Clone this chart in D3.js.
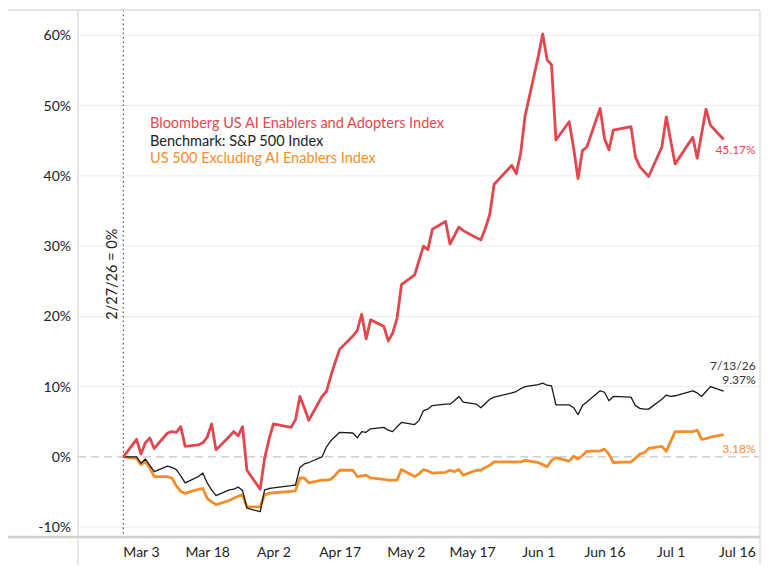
<!DOCTYPE html>
<html>
<head>
<meta charset="utf-8">
<script src="https://cdn.jsdelivr.net/npm/d3@7"></script>
<style>
  body { margin: 0; background: #fff; }
  svg { font-family: Lato, "Open Sans", sans-serif; }
</style>
</head>
<body>
<div id="chart"></div>
<script>
// trading days, 2/27/26 to 7/13/26
const dates = [
  "2026-02-27",
  "2026-03-02","2026-03-03","2026-03-04","2026-03-05","2026-03-06","2026-03-09","2026-03-10","2026-03-11","2026-03-12","2026-03-13",
  "2026-03-16","2026-03-17","2026-03-18","2026-03-19","2026-03-20","2026-03-23","2026-03-24","2026-03-25","2026-03-26","2026-03-27",
  "2026-03-30","2026-03-31",
  "2026-04-01","2026-04-02","2026-04-06","2026-04-07","2026-04-08","2026-04-09","2026-04-10","2026-04-13","2026-04-14","2026-04-15",
  "2026-04-16","2026-04-17","2026-04-20","2026-04-21","2026-04-22","2026-04-23","2026-04-24","2026-04-27","2026-04-28","2026-04-29",
  "2026-04-30",
  "2026-05-01","2026-05-04","2026-05-05","2026-05-06","2026-05-07","2026-05-08","2026-05-11","2026-05-12","2026-05-13","2026-05-14",
  "2026-05-15","2026-05-18","2026-05-19","2026-05-20","2026-05-21","2026-05-22","2026-05-26","2026-05-27","2026-05-28","2026-05-29",
  "2026-06-01","2026-06-02","2026-06-03","2026-06-04","2026-06-05","2026-06-08","2026-06-09","2026-06-10","2026-06-11","2026-06-12",
  "2026-06-15","2026-06-16","2026-06-17","2026-06-18","2026-06-22","2026-06-23","2026-06-24","2026-06-25","2026-06-26","2026-06-29",
  "2026-06-30",
  "2026-07-01","2026-07-02","2026-07-06","2026-07-07","2026-07-08","2026-07-09","2026-07-10","2026-07-13"
];

const aiIndex = [
  0,
  2.5, 0.4, 2.0, 2.7, 1.2, 3.4, 3.6, 3.5, 4.3, 1.5,
  1.7, 2.0, 2.8, 4.7, 1.0, 2.9, 3.6, 3.0, 4.3, -1.9,
  -4.6, -0.2,
  2.5, 4.7, 4.2, 5.3, 8.6, 7.0, 5.2, 8.6, 9.3, 11.5,
  13.5, 15.3, 17.2, 18.0, 20.3, 16.8, 19.5, 18.6, 16.5, 17.6,
  19.7,
  24.5, 25.9, 28.0, 30.0, 29.5, 32.4, 33.5, 30.3, 31.5, 32.7,
  32.2, 31.2, 30.9, 32.5, 34.5, 38.8, 41.5, 40.3, 43.2, 48.5,
  57.0, 60.2, 56.5, 55.8, 45.1, 47.7, 44.0, 39.6, 43.6, 44.1,
  49.6, 45.3, 43.7, 46.5, 47.0, 42.7, 41.3, 40.6, 39.9, 44.1,
  48.4,
  45.0, 41.7, 45.5, 42.5, 46.0, 49.5, 47.2, 45.17
];

const sp500 = [
  0,
  0, -0.9, -0.3, -1.2, -2.1, -1.3, -1.5, -1.8, -2.7, -3.7,
  -2.8, -2.3, -3.7, -4.7, -5.5, -4.7, -4.6, -4.3, -4.8, -7.3,
  -7.8, -4.7,
  -4.5, -4.4, -4.1, -4.0, -1.5, -1.0, -0.8, 0.0, 1.4, 2.3,
  2.9, 3.5, 3.4, 2.7, 3.6, 3.5, 4.0, 4.2, 3.8, 3.6,
  4.3,
  4.9, 4.6, 5.2, 6.6, 6.8, 7.3, 7.5, 7.5, 8.0, 8.6,
  7.8, 7.5, 7.0, 7.6, 8.2, 8.5, 9.1, 9.3, 9.7, 10.0,
  10.3, 10.5, 10.2, 10.1, 7.4, 7.4, 7.0, 6.0, 7.3, 7.8,
  9.4, 9.2, 8.0, 8.6, 8.5, 7.3, 6.9, 6.8, 6.8, 8.2,
  8.8,
  8.6, 8.7, 9.4, 9.1, 8.6, 9.3, 10.0, 9.37
];

const exAi = [
  0,
  -0.2, -1.1, -0.7, -1.6, -2.8, -2.8, -3.0, -4.1, -4.9, -5.2,
  -4.6, -4.5, -5.9, -6.4, -6.8, -6.2, -5.9, -5.6, -5.4, -7.1,
  -7.1, -5.4,
  -5.2, -5.1, -4.9, -4.8, -3.0, -3.0, -3.7, -3.3, -3.3, -3.2,
  -2.6, -1.9, -1.9, -2.8, -2.7, -2.6, -3.0, -3.2, -3.3, -3.3,
  -3.3,
  -1.8, -2.8, -2.4, -1.8, -2.0, -2.3, -2.2, -1.9, -2.1, -1.8,
  -2.6, -1.9, -1.9, -1.5, -1.2, -0.7, -0.7, -0.7, -0.7, -0.5,
  -0.8, -1.1, -1.4, -0.5, -0.1, -0.6, 0.1, -0.3, 0.2, 0.8,
  0.85, 1.1, 0.4, -0.8, -0.7, -0.2, 0.4, 0.6, 1.2, 1.5,
  0.8,
  2.2, 3.6, 3.6, 3.8, 2.5, 2.6, 2.8, 3.18
];

const seriesNames = [
  "Bloomberg US AI Enablers and Adopters Index",
  "Benchmark: S&P 500 Index",
  "US 500 Excluding AI Enablers Index"
];
const seriesColors = ["#e2474f", "#1a1a1a", "#f58d2a"];

const xTicks = ["2026-03-03","2026-03-18","2026-04-02","2026-04-17","2026-05-02","2026-05-17","2026-06-01","2026-06-16","2026-07-01","2026-07-16"];
const yTicks = [-10, 0, 10, 20, 30, 40, 50, 60];

const W = 775, H = 586;
const margin = { top: 10, right: 16, bottom: 49, left: 78 };
const width = W - margin.left - margin.right;
const height = H - margin.top - margin.bottom;

const parse = d3.timeParse("%Y-%m-%d");
const days = dates.map(parse);

const svg = d3.select("#chart").append("svg")
  .attr("width", W)
  .attr("height", H);

const g = svg.append("g")
  .attr("transform", `translate(${margin.left},${margin.top})`);

const x = d3.scaleTime()
  .domain([new Date(2026, 1, 16, 17, 30), new Date(2026, 6, 21)])
  .range([0, width]);

const y = d3.scaleLinear()
  .domain([-11.4, 63.6])
  .range([height, 0]);

// grid
g.append("g")
  .selectAll("line")
  .data(yTicks.filter(d => d !== 0))
  .join("line")
  .attr("x1", 0).attr("x2", width)
  .attr("y1", d => y(d)).attr("y2", d => y(d))
  .attr("stroke", "#ececec")
  .attr("stroke-width", 1);

g.append("line")
  .attr("x1", 0).attr("x2", width)
  .attr("y1", y(0)).attr("y2", y(0))
  .attr("stroke", "#b5b5b5")
  .attr("stroke-dasharray", "8,5");

// frame
svg.append("line").attr("x1", 8).attr("x2", margin.left + width + 1)
  .attr("y1", margin.top).attr("y2", margin.top)
  .attr("stroke", "#dedede").attr("stroke-width", 1.5);
svg.append("line").attr("x1", margin.left).attr("x2", margin.left)
  .attr("y1", margin.top).attr("y2", 565)
  .attr("stroke", "#dedede").attr("stroke-width", 1.5);
svg.append("line").attr("x1", margin.left + width + 1).attr("x2", margin.left + width + 1)
  .attr("y1", margin.top).attr("y2", 565)
  .attr("stroke", "#dedede").attr("stroke-width", 1.5);

// y axis
const yAxis = g.append("g")
  .call(d3.axisLeft(y).tickValues(yTicks).tickSize(0).tickPadding(7).tickFormat(d => d + "%"));
yAxis.select(".domain").remove();
yAxis.selectAll("text").attr("fill", "#222").style("font-size", "14px").style("font-family", "Lato");

// x axis
const xAxis = g.append("g")
  .attr("transform", `translate(0,${height})`)
  .call(d3.axisBottom(x).tickValues(xTicks.map(parse)).tickSize(0).tickPadding(10).tickFormat(d3.timeFormat("%b %-d")));
xAxis.select(".domain").remove();
xAxis.selectAll("text").attr("fill", "#222").style("font-size", "14px").style("font-family", "Lato");

svg.append("line").attr("x1", 8).attr("x2", margin.left + width + 1)
  .attr("y1", margin.top + height).attr("y2", margin.top + height)
  .attr("stroke", "#cfcfcf").attr("stroke-width", 2.5);

// start marker
g.append("line")
  .attr("x1", x(days[0])).attr("x2", x(days[0]))
  .attr("y1", 0).attr("y2", height)
  .attr("stroke", "#555")
  .attr("stroke-width", 1.2)
  .attr("stroke-dasharray", "1.5,3");

g.append("text")
  .attr("transform", `translate(${x(days[0]) - 6},${y(26)}) rotate(-90)`)
  .attr("text-anchor", "middle")
  .attr("fill", "#222")
  .style("font-size", "14.5px")
  .text("2/27/26 = 0%");

// lines
const series = [aiIndex, sp500, exAi];
const widths = [2.8, 1.3, 2.8];
const line = d3.line()
  .x((d, i) => x(days[i]))
  .y(d => y(d));

// draw orange, black, then red on top
[2, 1, 0].forEach(k => {
  g.append("path")
    .datum(series[k])
    .attr("fill", "none")
    .attr("stroke", seriesColors[k])
    .attr("stroke-width", widths[k])
    .attr("stroke-linejoin", "round")
    .attr("d", line);
});

// legend
svg.selectAll("text.legend")
  .data(seriesNames)
  .join("text")
  .attr("class", "legend")
  .attr("x", 150)
  .attr("y", (d, i) => 128 + i * 17.5)
  .attr("fill", (d, i) => seriesColors[i] === "#1a1a1a" ? "#222" : seriesColors[i])
  .style("font-size", "14.5px")
  .text(d => d);

// end labels
const last = days.length - 1;
const lx = x(days[last]) + 32;
g.append("text").attr("x", lx).attr("y", y(aiIndex[last]) + 14)
  .attr("text-anchor", "end").attr("fill", seriesColors[0])
  .style("font-size", "12px").text(aiIndex[last].toFixed(2) + "%");
g.append("text").attr("x", lx).attr("y", y(sp500[last]) - 21)
  .attr("text-anchor", "end").attr("fill", "#333")
  .style("font-size", "12px").text("7/13/26");
g.append("text").attr("x", lx).attr("y", y(sp500[last]) - 7)
  .attr("text-anchor", "end").attr("fill", "#333")
  .style("font-size", "12px").text(sp500[last].toFixed(2) + "%");
g.append("text").attr("x", lx).attr("y", y(exAi[last]) + 18)
  .attr("text-anchor", "end").attr("fill", seriesColors[2])
  .style("font-size", "12px").text(exAi[last].toFixed(2) + "%");
</script>
</body>
</html>
